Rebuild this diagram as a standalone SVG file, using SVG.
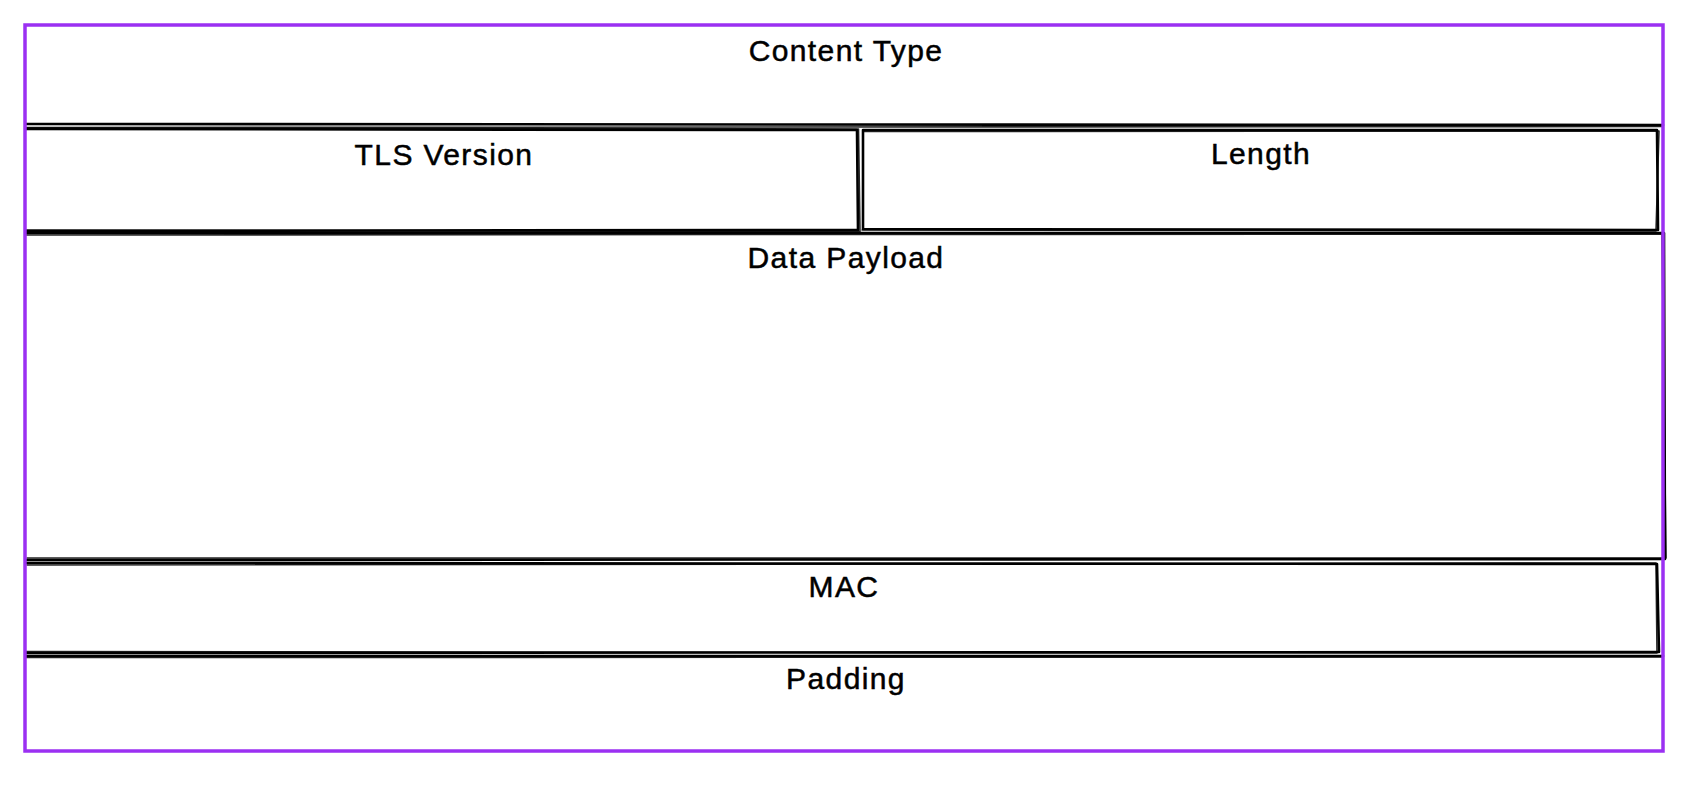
<svg xmlns="http://www.w3.org/2000/svg" width="1690" height="788" viewBox="0 0 1690 788">
<style>
.bg{fill:#ffffff}
.ink{fill:none;stroke:#000;stroke-width:2.6;stroke-linejoin:round;stroke-linecap:round}
.ink2{fill:none;stroke:#000;stroke-width:1.6;stroke-opacity:0.85;stroke-linejoin:round;stroke-linecap:round}
.lbl{font-family:"Liberation Sans",Arial,sans-serif;font-size:30px;letter-spacing:1.4px;fill:#000;stroke:#000;stroke-width:0.5;text-anchor:middle}
.frame{fill:none;stroke:#9b30f2;stroke-width:3.5}
</style>
<rect x="0" y="0" width="1690" height="788" class="bg"/>
<g id="content-type">
  <path class="ink" d="M26 124 L1663 125"/>
  <path class="ink2" d="M26 127.5 L1662 126.5"/>
  <text class="lbl" x="846" y="61">Content Type</text>
</g>
<g id="tls-version">
  <path class="ink" d="M26 129 L857 130 L858 230 L26 231"/>
  <path class="ink2" d="M27 128 L858.5 129 L860 231.5 L26 230"/>
  <text class="lbl" x="444" y="165">TLS Version</text>
</g>
<g id="length">
  <path class="ink" d="M863 130 L1657 130 L1658 230 L863 229 Z"/>
  <path class="ink2" d="M864 131.5 L1659 131 L1656 231 L862 230"/>
  <text class="lbl" x="1261" y="164">Length</text>
</g>
<g id="data-payload">
  <path class="ink" d="M26 233 L1664 233 L1665 559 L26 560"/>
  <path class="ink2" d="M26 235 L1662 234 L1666 558 L27 558"/>
  <text class="lbl" x="846" y="268">Data Payload</text>
</g>
<g id="mac">
  <path class="ink" d="M26 563 L1657 564 L1659 652 L26 653"/>
  <path class="ink2" d="M27 565 L1656 563 L1657 653 L26 651.5"/>
  <text class="lbl" x="844" y="597">MAC</text>
</g>
<g id="padding">
  <path class="ink" d="M26 656 L1663 656"/>
  <path class="ink2" d="M26 657.5 L1662 657"/>
  <text class="lbl" x="846" y="689">Padding</text>
</g>
<g id="frame">
  <rect class="frame" x="25" y="25" width="1638" height="726"/>
</g>
</svg>
